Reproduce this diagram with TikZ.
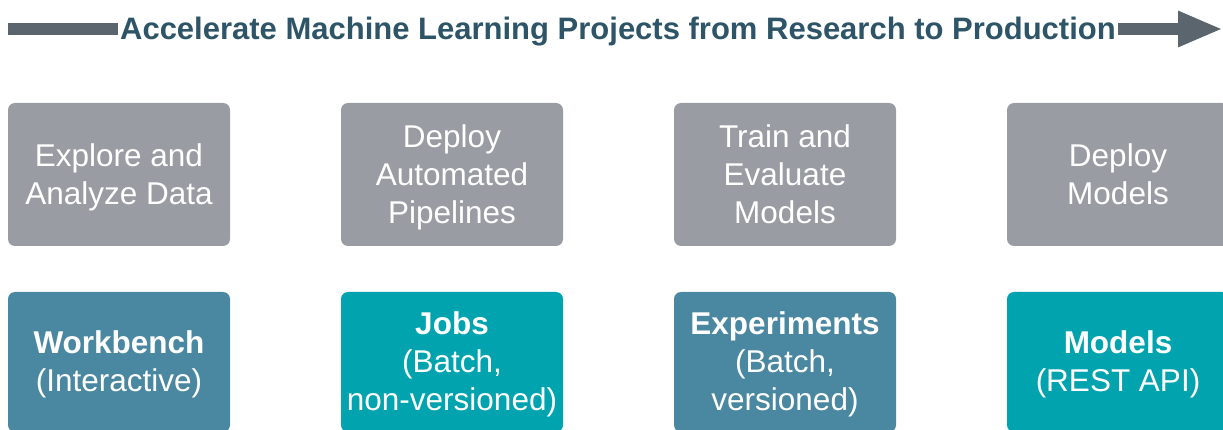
\documentclass[tikz,border=0pt]{standalone}
\usepackage{fontspec}
\setmainfont{Liberation Sans}
\usetikzlibrary{arrows.meta}
\definecolor{boxgray}{HTML}{999CA3}
\definecolor{boxblue}{HTML}{4A88A1}
\definecolor{boxteal}{HTML}{00A3AE}
\definecolor{titleblue}{HTML}{2D5567}
\definecolor{arrowgray}{HTML}{5A656E}
\tikzset{
  card/.style={rounded corners=7pt, minimum width=222pt},
  cardtext/.style={align=center, text=white, yshift=-2.5pt,
    font=\fontsize{31.5}{38}\selectfont},
  graycard/.style={card, fill=boxgray, minimum height=143pt},
  bluecard/.style={card, fill=boxblue, minimum height=140pt},
  tealcard/.style={card, fill=boxteal, minimum height=140pt}
}
\begin{document}
\begin{tikzpicture}[x=1pt,y=-1pt]
		    	\useasboundingbox (0,0) rectangle (1223,430);
		    	\clip (0,0) rectangle (1223,430);
		    	% title arrow
		    	\node[font=\fontsize{31}{36}\selectfont\bfseries, text=titleblue, inner sep=2pt, anchor=base] (T) at (618,40) {Accelerate Machine Learning Projects from Research to Production};
		    	\coordinate (AS) at (8,29);
		    	\coordinate (AE) at (1223,29);
		    	\draw[arrowgray, line width=12pt] (AS)--(T.west|-AS);
		    	\draw[arrowgray, line width=12pt, -{Triangle[length=45pt,width=33pt]}] (T.east|-AE)--(AE);
		    	
		    	% tasks
		    	\node[graycard, label={[cardtext]center:{Explore and\\Analyze Data}}] (EA) at (119,174.5) {};
		    	\node[graycard, label={[cardtext]center:{Deploy\\Automated\\Pipelines}}] (DP) at (452,174.5) {};
		    	\node[graycard, label={[cardtext]center:{Train and\\Evaluate\\Models\vphantom{y}}}] (TE) at (785,174.5) {};
		    	\node[graycard, label={[cardtext]center:{Deploy\\Models\vphantom{y}}}] (DM) at (1118,174.5) {};
		    	
		    	% tools
		    	\node[bluecard, label={[cardtext]center:{\textbf{Workbench}\\(Interactive)}}] (WB) at (119,362) {};
		    	\node[tealcard, label={[cardtext]center:{\textbf{Jobs}\\(Batch,\\non-versioned)}}] (JB) at (452,362) {};
		    	\node[bluecard, label={[cardtext]center:{\textbf{Experiments}\\(Batch,\\versioned)}}] (EX) at (785,362) {};
		    	\node[tealcard, label={[cardtext]center:{\textbf{Models}\\(REST API)}}] (MD) at (1118,362) {};
		    \end{tikzpicture}
\end{document}
